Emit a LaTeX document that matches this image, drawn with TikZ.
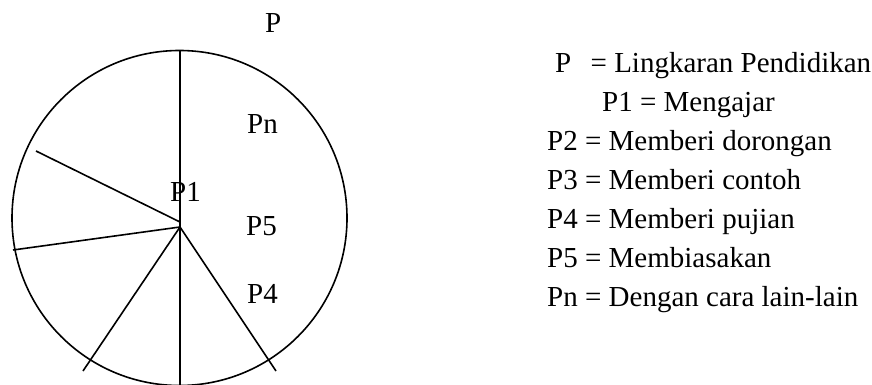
\documentclass[tikz,border=0pt]{standalone}
\usepackage{fontspec}
\setmainfont{Liberation Serif}
\usetikzlibrary{positioning}

\begin{document}
\begin{tikzpicture}[
    x=1pt, y=-1pt,
    wheel/.style={line width=1.6pt},
    spoke/.style={line width=1.6pt},
    lbl/.style={font=\fontsize{29}{35}\selectfont, inner sep=0pt, anchor=base west}
]
\useasboundingbox (0,0) rectangle (872,385);
% Circle
\coordinate (O) at (179.5,218);
\draw[wheel] (O) circle[radius=167.5pt];
% Vertical diameter
\coordinate (top) at (180,50.7);
\coordinate (bot) at (180,385);
\draw[spoke] (top) -- (bot);
% Spokes from the hub
\coordinate (H) at (180,227);
\coordinate (H1) at (180,222);
\foreach \n/\x/\y in {e1/36/151, e2/13/250, e3/83/371, e4/276/371} {
    \coordinate (\n) at (\x,\y);
}
\draw[spoke] (H1) -- (e1);
\foreach \n in {e2, e3, e4} {
    \draw[spoke] (H) -- (\n);
}
% Labels on the circle
\node[lbl] (p) at (265,33) {P};
\node[lbl] (pn) at (247,133) {Pn};
\node[lbl] (p1) at (170,201) {P1};
\node[lbl] (p5) at (246,235) {P5};
\node[lbl] (p4) at (247,303) {P4};
% Legend
\node[lbl] (d0) at (555,73) {P~~\,= Lingkaran Pendidikan};
\node[lbl] (d1) at (602,112) {P1 = Mengajar};
\foreach \i/\t [count=\k] in {2/Memberi dorongan, 3/Memberi contoh, 4/Memberi pujian, 5/Membiasakan, n/Dengan cara lain-lain} {
    \node[lbl] (d\i) at (547,112+38.8*\k) {P\i{} = \t};
}
\end{tikzpicture}
\end{document}
